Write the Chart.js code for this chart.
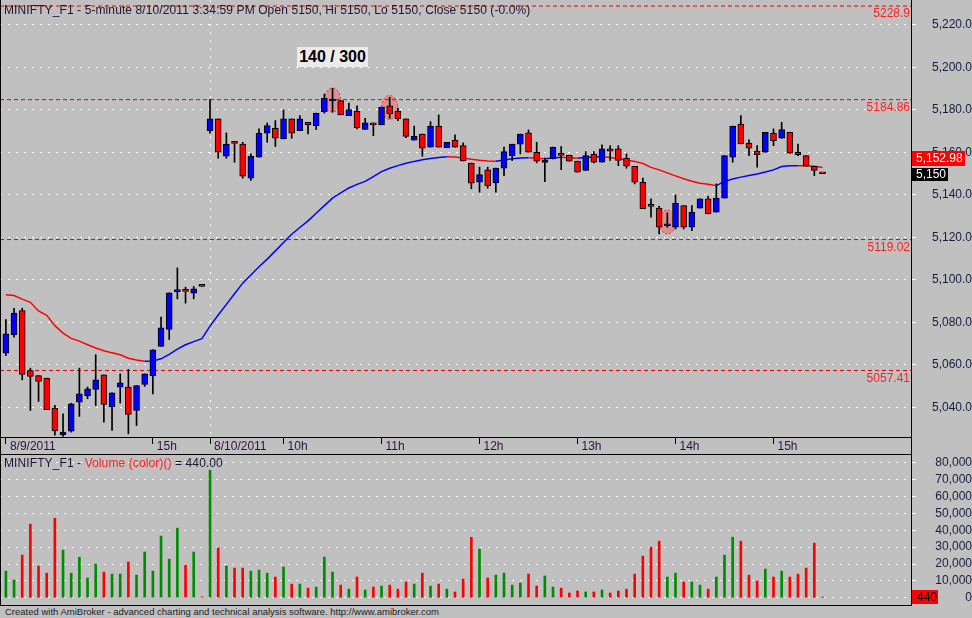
<!DOCTYPE html>
<html>
<head>
<meta charset="utf-8">
<title>MINIFTY_F1 5-minute</title>
<script src="https://cdn.jsdelivr.net/npm/chart.js@4.4.1/dist/chart.umd.min.js"></script>
<style>
  html, body { margin: 0; padding: 0; }
  body { width: 972px; height: 618px; background: #c0c0c0; position: relative; overflow: hidden;
         font-family: "Liberation Sans", Arial, sans-serif; }
  #pricePane { position: absolute; left: 0; top: 0; width: 972px; height: 454px; }
  #volPane { position: absolute; left: 0; top: 454px; width: 972px; height: 152px; }
  .lbl { position: absolute; white-space: nowrap; font-size: 12px; letter-spacing: 0.1px; color: #1c1430; }
  #count { position: absolute; left: 297px; top: 47px; width: 71px; height: 20px; background: #ebebeb;
           font: bold 16px "Liberation Sans", Arial, sans-serif; text-align: center; line-height: 20px; color: #000; }
  #footer { position: absolute; left: 5px; top: 606px; font-size: 9.5px; color: #202020; white-space: nowrap; }
</style>
</head>
<body>
<div id="pricePane"><canvas id="price"></canvas></div>
<div id="volPane"><canvas id="vol"></canvas></div>
<div class="lbl" style="left:4px;top:3px">MINIFTY_F1 - 5-minute 8/10/2011 3:34:59 PM Open 5150, Hi 5150, Lo 5150, Close 5150 (-0.0%)</div>
<div id="count">140 / 300</div>
<div class="lbl" style="left:4px;top:456px">MINIFTY_F1 - <span style="color:#ff2020">Volume (color)()</span> = 440.00</div>
<div id="footer">Created with AmiBroker - advanced charting and technical analysis software. http://www.amibroker.com</div>
<script>
// sessions shown on the chart
const sessionDays = ['8/9/2011', '8/10/2011'];
const times9 = ['13:30','13:35','13:40','13:45','13:50','13:55',
  '14:00','14:05','14:10','14:15','14:20','14:25','14:30','14:35','14:40','14:45','14:50','14:55',
  '15:00','15:05','15:10','15:15','15:20','15:25','15:30'];
const times10 = ['9:15','9:20','9:25','9:30','9:35','9:40','9:45','9:50','9:55',
  '10:00','10:05','10:10','10:15','10:20','10:25','10:30','10:35','10:40','10:45','10:50','10:55',
  '11:00','11:05','11:10','11:15','11:20','11:25','11:30','11:35','11:40','11:45','11:50','11:55',
  '12:00','12:05','12:10','12:15','12:20','12:25','12:30','12:35','12:40','12:45','12:50','12:55',
  '13:00','13:05','13:10','13:15','13:20','13:25','13:30','13:35','13:40','13:45','13:50','13:55',
  '14:00','14:05','14:10','14:15','14:20','14:25','14:30','14:35','14:40','14:45','14:50','14:55',
  '15:00','15:05','15:10','15:15','15:20','15:25','15:30'];
const sessionTimes = [times9, times10];

// OHLC, 5-minute bars
const open = [5065.6,5074.3,5085.6,5057.4,5055.0,5053.8,5039.7,5027.2,5028.9,5042.5,
  5045.4,5048.5,5055.4,5040.2,5049.6,5049.6,5038.6,5050.8,5054.8,5068.7,
  5076.7,5094.5,5095.0,5093.8,5097.2,
  5170.3,5175.8,5158.2,5164.6,5164.0,5147.9,5157.8,5169.1,5171.4,5166.4,
  5175.8,5170.3,5174.2,5172.6,5179.2,5184.2,5184.4,5177.3,5179.4,5170.8,
  5173.9,5173.0,5182.0,5179.4,5175.8,5165.8,5168.7,5162.5,5172.4,5162.3,
  5165.8,5163.2,5155.0,5146.0,5151.8,5145.7,5152.6,5158.5,5163.9,5169.2,
  5160.1,5155.3,5157.0,5158.8,5158.7,5155.9,5151.5,5159.2,5155.4,5161.7,
  5161.7,5157.3,5153.5,5146.0,5134.8,5133.8,5125.5,5124.8,5135.0,5124.8,
  5133.8,5138.2,5131.9,5138.5,5157.8,5173.3,5164.4,5160.6,5160.1,5169.1,
  5166.7,5169.5,5160.1,5158.5,5153.5,5150];
const high = [5081.4,5086.7,5086.7,5058.5,5055.0,5053.8,5041.0,5037.0,5042.0,5058.5,
  5049.6,5064.8,5055.4,5046.9,5055.8,5057.9,5050.3,5055.8,5067.1,5082.5,
  5093.9,5105.7,5096.6,5096.9,5097.2,
  5184.9,5175.8,5169.2,5165.1,5164.8,5159.3,5171.1,5173.9,5175.0,5180.0,
  5175.8,5177.3,5174.2,5178.5,5187.5,5190.2,5184.4,5183.2,5182.0,5176.1,
  5173.9,5181.3,5186.0,5180.8,5175.8,5172.4,5168.7,5174.5,5177.7,5164.8,
  5168.3,5164.5,5155.0,5153.1,5153.1,5152.6,5162.5,5163.9,5168.7,5170.6,
  5164.8,5157.3,5162.5,5162.8,5158.7,5155.9,5160.4,5160.4,5163.6,5163.2,
  5163.2,5159.3,5153.5,5147.9,5138.2,5134.7,5131.6,5140.0,5135.0,5135.0,
  5138.2,5139.4,5145.2,5158.5,5172.4,5177.3,5166.0,5163.2,5169.5,5171.1,
  5174.2,5169.5,5164.0,5158.5,5153.5,5150];
const low = [5064.4,5073.1,5053.0,5038.6,5042.8,5039.0,5027.0,5026.4,5028.4,5035.8,
  5044.1,5040.9,5033.1,5029.2,5042.1,5027.6,5031.5,5049.9,5046.4,5068.7,
  5072.0,5091.1,5089.1,5091.1,5097.0,
  5169.1,5157.3,5157.3,5155.4,5147.9,5146.8,5157.8,5164.8,5162.8,5166.4,
  5166.7,5170.3,5168.7,5170.8,5178.5,5178.9,5177.7,5177.3,5171.1,5170.8,
  5167.9,5173.0,5176.1,5175.0,5167.0,5165.8,5158.2,5162.5,5162.5,5162.3,
  5162.5,5156.0,5142.9,5141.3,5143.2,5141.3,5149.1,5156.2,5159.3,5160.1,
  5155.1,5146.3,5157.0,5151.9,5155.9,5150.7,5151.5,5155.1,5155.4,5156.2,
  5153.8,5152.6,5145.2,5133.5,5129.5,5121.7,5124.8,5124.0,5124.0,5123.2,
  5133.8,5131.1,5131.9,5138.5,5155.4,5164.0,5158.5,5153.1,5160.1,5163.2,
  5166.7,5159.7,5158.5,5153.5,5149.1,5150];
const close = [5074.7,5084.4,5055.5,5054.6,5052.2,5039.0,5029.0,5028.4,5041.7,5046.4,
  5048.8,5053.0,5041.4,5046.9,5051.6,5036.7,5050.3,5055.8,5067.1,5077.5,
  5093.9,5094.8,5094.6,5095.8,5097.0,
  5175.8,5160.1,5164.0,5164.3,5148.8,5158.2,5169.1,5172.6,5166.7,5175.8,
  5169.1,5175.8,5173.0,5178.5,5185.5,5184.6,5177.7,5180.2,5171.7,5173.9,
  5173.0,5181.3,5178.1,5175.8,5167.6,5167.6,5162.0,5172.4,5162.5,5164.8,
  5162.5,5156.0,5145.5,5149.6,5144.4,5152.6,5160.4,5163.9,5168.7,5160.1,
  5155.9,5155.5,5162.5,5158.6,5155.9,5150.7,5158.5,5155.4,5161.7,5160.6,
  5156.2,5153.5,5146.0,5133.5,5134.6,5124.8,5125.7,5136.1,5124.8,5131.9,
  5138.2,5131.1,5138.5,5158.5,5172.4,5164.0,5162.0,5159.0,5169.5,5165.6,
  5170.8,5159.7,5159.0,5153.5,5151.5,5150];

// moving average overlay
const maLine = [5093.0,5092.7,5091.0,5089.5,5085.4,5083.4,5078.5,5075.0,5072.5,5071.2,
  5069.5,5068.0,5066.7,5065.7,5064.8,5063.2,5062.3,5061.7,5061.9,5062.9,
  5065.0,5067.5,5069.5,5071.0,5072.4,
  5078.3,5083.5,5088.5,5093.5,5098.5,5102.3,5106.2,5109.8,5113.7,5117.6,
  5121.5,5124.7,5127.8,5131.4,5135.0,5138.5,5141.0,5143.3,5145.0,5146.4,
  5148.6,5151.0,5152.6,5153.8,5154.9,5155.8,5156.6,5157.2,5157.6,5158.0,
  5157.9,5157.4,5156.8,5156.3,5156.0,5155.9,5156.4,5157.0,5157.4,5157.5,
  5157.3,5157.1,5157.4,5157.7,5157.5,5157.3,5157.6,5157.9,5158.0,5157.6,
  5157.0,5156.5,5155.8,5154.8,5153.0,5151.8,5150.4,5149.0,5147.6,5146.5,
  5145.5,5145.0,5144.4,5146.4,5147.5,5148.4,5149.2,5149.9,5150.8,5151.8,
  5153.4,5153.7,5153.8,5153.7,5153.5,5152.98];

const volume = [15800,10500,25300,43700,18800,14600,47200,28300,14600,24100,
  11700,20000,15200,14000,14000,21200,13400,27100,15800,36600,
  22900,41300,19400,27100,500,
  75700,29600,18800,17600,17600,15800,16400,14600,12300,18200,
  8100,8100,5700,6300,24100,15200,7500,5100,12300,4600,
  6300,6900,7500,5100,9300,8100,14600,6900,8100,5100,
  3400,11100,35900,28900,11700,13400,14600,7500,8700,14000,
  6900,12900,6300,5700,2800,4000,3400,3400,4600,2800,
  4000,5100,14000,24700,30000,33600,12300,14600,9300,9300,
  7500,5100,12300,25300,35900,33600,13400,9900,17000,12300,
  15800,12300,14000,17600,32400,440];

const levels = [5228.9, 5184.86, 5119.02, 5057.41];
const markIdx = [40, 47, 81];
const markPrice = [5184.7, 5181.2, 5127.3];
const priceTicks = [5040, 5060, 5080, 5100, 5120, 5140, 5160, 5180, 5200, 5220];
const volTicks = [0, 10000, 20000, 30000, 40000, 50000, 60000, 70000, 80000];

// ---- layout of the panes ----
const X_MIN = -0.72, X_MAX = 110.96;
const P_MIN = 5026.1, P_MAX = 5231.75;
const V_MIN = -4920, V_MAX = 85330;
const AXIS_TXT = '#1a1a40';
const FONT = '"Liberation Sans", Arial, sans-serif';

Chart.defaults.font.family = FONT;
Chart.defaults.font.size = 12;

const bars = [];
sessionDays.forEach((d, k) => sessionTimes[k].forEach((t, j) => bars.push({ date: d, time: t, first: j === 0 })));
const tickIdx = [];
const tickText = {};
bars.forEach((b, i) => {
  const prev = tickIdx.length ? tickIdx[tickIdx.length - 1] : -99;
  if (b.first) { tickIdx.push(i); tickText[i] = b.date; }
  else if (b.time.endsWith(':00') && i - prev >= 8) { tickIdx.push(i); tickText[i] = b.time.split(':')[0] + 'h'; }
});
const isDayBreak = i => i > 0 && bars[i] && bars[i].first;

const up = close.map((c, i) => c > open[i]);
const last = close.length - 1;

// keep the plot area exactly where the axes are fitted
function fitX(s) { s.height = 17; s.paddingLeft = 0; s.paddingRight = 0; }
function fitY(s) { s.width = 60; s.paddingTop = 0; s.paddingBottom = 0; }

const frame = {
  id: 'frame',
  afterDraw(chart, args, opts) {
    const { ctx, chartArea: a } = chart;
    ctx.save();
    ctx.strokeStyle = '#000';
    ctx.lineWidth = 1;
    ctx.beginPath();
    ctx.moveTo(a.left + 0.5, a.top);
    ctx.lineTo(a.left + 0.5, chart.height);
    ctx.moveTo(a.right - 0.5, a.top);
    ctx.lineTo(a.right - 0.5, chart.height);
    ctx.moveTo(a.left, a.bottom + 0.5);
    ctx.lineTo(a.right, a.bottom + 0.5);
    if (opts.top) { ctx.moveTo(a.left, a.top + 0.5); ctx.lineTo(a.right, a.top + 0.5); }
    if (opts.bottom) { ctx.moveTo(a.left, a.bottom - 0.5); ctx.lineTo(a.right, a.bottom - 0.5); }
    ctx.stroke();
    ctx.restore();
  }
};

const priceDecor = {
  id: 'priceDecor',
  beforeDatasetsDraw(chart) {
    const { ctx, scales: { x, y } } = chart;
    ctx.save();
    markIdx.forEach((m, k) => {
      ctx.beginPath();
      ctx.ellipse(x.getPixelForValue(m), y.getPixelForValue(markPrice[k]), 8, 12, 0, 0, Math.PI * 2);
      ctx.fillStyle = 'rgba(255,70,70,0.38)';
      ctx.fill();
      ctx.setLineDash([2, 2]);
      ctx.strokeStyle = '#ff2020';
      ctx.lineWidth = 1;
      ctx.stroke();
    });
    ctx.restore();
  },
  afterDatasetsDraw(chart) {
    const { ctx, chartArea: a, scales: { y } } = chart;
    ctx.save();
    ctx.font = '12px ' + FONT;
    ctx.fillStyle = '#ff2020';
    ctx.textAlign = 'right';
    ctx.textBaseline = 'top';
    levels.forEach(lv => ctx.fillText(String(lv), a.right - 2, y.getPixelForValue(lv) + 2));
    ctx.restore();
  },
  afterDraw(chart) {
    const { ctx, chartArea: a, scales: { y } } = chart;
    ctx.save();
    ctx.font = '12px ' + FONT;
    ctx.textBaseline = 'middle';
    ctx.textAlign = 'left';
    const cy = Math.round(y.getPixelForValue(close[last]));
    const cTop = cy - 6;
    ctx.fillStyle = '#000';
    ctx.fillRect(a.right, cTop, 36, 13);
    ctx.fillStyle = '#fff';
    ctx.fillText(close[last].toLocaleString('en-US'), a.right + 4, cy + 0.5);
    const my = Math.round(y.getPixelForValue(maLine[last]));
    const mBottom = Math.min(my + 7, cTop - 2);
    ctx.fillStyle = '#ff0000';
    ctx.fillRect(a.right, mBottom - 15, 53, 15);
    ctx.fillStyle = '#fff';
    ctx.fillText(maLine[last].toLocaleString('en-US', { minimumFractionDigits: 2 }), a.right + 4, mBottom - 7);
    ctx.restore();
  }
};

const volDecor = {
  id: 'volDecor',
  afterDraw(chart) {
    const { ctx, chartArea: a, scales: { y } } = chart;
    const vy = Math.round(y.getPixelForValue(volume[last]));
    ctx.save();
    ctx.fillStyle = '#ff0000';
    ctx.fillRect(a.right, vy - 7, 26, 14);
    ctx.font = '12px ' + FONT;
    ctx.fillStyle = '#000';
    ctx.textBaseline = 'middle';
    ctx.fillText(String(volume[last]), a.right + 5, vy + 0.5);
    ctx.restore();
  }
};

const levelSets = levels.map(lv => ({
  type: 'line',
  data: [{ x: X_MIN, y: lv }, { x: X_MAX, y: lv }],
  borderColor: '#e80000',
  borderWidth: 1,
  borderDash: [4, 3],
  pointRadius: 0,
  order: 6
}));

new Chart(document.getElementById('price'), {
  type: 'bar',
  data: {
    datasets: [
      ...levelSets,
      {
        type: 'line',
        data: maLine.map((v, i) => ({ x: i, y: v })),
        borderColor: '#0000ff',
        borderWidth: 1.5,
        pointRadius: 0,
        segment: { borderColor: c => c.p1.parsed.y > c.p0.parsed.y ? '#0000ff' : '#ff0000' },
        order: 5
      },
      {
        data: low.map((l, i) => ({ x: i, y: [l, high[i]] })),
        backgroundColor: '#000',
        barThickness: 1,
        grouped: false,
        order: 2
      },
      {
        data: open.map((o, i) => ({ x: i, y: [o, close[i]] })),
        backgroundColor: up.map(u => u ? '#0000ff' : '#ff0000'),
        borderColor: '#000',
        borderWidth: 1,
        borderSkipped: false,
        barThickness: 6,
        minBarLength: 2,
        grouped: false,
        order: 1
      }
    ]
  },
  options: {
    responsive: true,
    maintainAspectRatio: false,
    animation: false,
    layout: { padding: 0 },
    plugins: { legend: { display: false }, tooltip: { enabled: false }, frame: {} },
    scales: {
      x: {
        type: 'linear',
        min: X_MIN,
        max: X_MAX,
        offset: false,
        afterFit: fitX,
        afterBuildTicks: s => { s.ticks = tickIdx.map(v => ({ value: v })); },
        ticks: {
          autoSkip: false,
          maxRotation: 0,
          align: 'start',
          labelOffset: 4,
          padding: -5,
          color: '#301040',
          callback: v => tickText[v] || ''
        },
        grid: {
          offset: false,
          color: c => (c.tick && isDayBreak(c.tick.value)) ? '#ffffff' : 'rgba(0,0,0,0)',
          tickColor: '#000',
          tickLength: 7,
          drawOnChartArea: true
        },
        border: { display: false, dash: [2, 6] }
      },
      y: {
        position: 'right',
        min: P_MIN,
        max: P_MAX,
        afterFit: fitY,
        afterBuildTicks: s => { s.ticks = priceTicks.map(v => ({ value: v })); },
        ticks: {
          autoSkip: false,
          crossAlign: 'far',
          color: AXIS_TXT,
          padding: 2,
          callback: v => v.toLocaleString('en-US', { minimumFractionDigits: 1, maximumFractionDigits: 1 })
        },
        grid: { color: '#ffffff', tickColor: '#ffffff', tickLength: 4 },
        border: { display: false, dash: [2, 6] }
      }
    }
  },
  plugins: [frame, priceDecor]
});

new Chart(document.getElementById('vol'), {
  type: 'bar',
  data: {
    datasets: [{
      data: volume.map((v, i) => ({ x: i, y: v })),
      backgroundColor: up.map(u => u ? '#008c00' : '#ff0000'),
      barThickness: 2,
      borderWidth: 0
    }]
  },
  options: {
    responsive: true,
    maintainAspectRatio: false,
    animation: false,
    layout: { padding: 0 },
    plugins: { legend: { display: false }, tooltip: { enabled: false }, frame: { top: true, bottom: true } },
    scales: {
      x: { type: 'linear', min: X_MIN, max: X_MAX, offset: false, grid: { offset: false }, display: false },
      y: {
        position: 'right',
        min: V_MIN,
        max: V_MAX,
        afterFit: fitY,
        afterBuildTicks: s => { s.ticks = volTicks.map(v => ({ value: v })); },
        ticks: { autoSkip: false, crossAlign: 'far', color: AXIS_TXT, padding: 2, callback: v => v.toLocaleString('en-US') },
        grid: { color: '#ffffff', tickColor: '#ffffff', tickLength: 4 },
        border: { display: false, dash: [2, 6] }
      }
    }
  },
  plugins: [frame, volDecor]
});
</script>
</body>
</html>
